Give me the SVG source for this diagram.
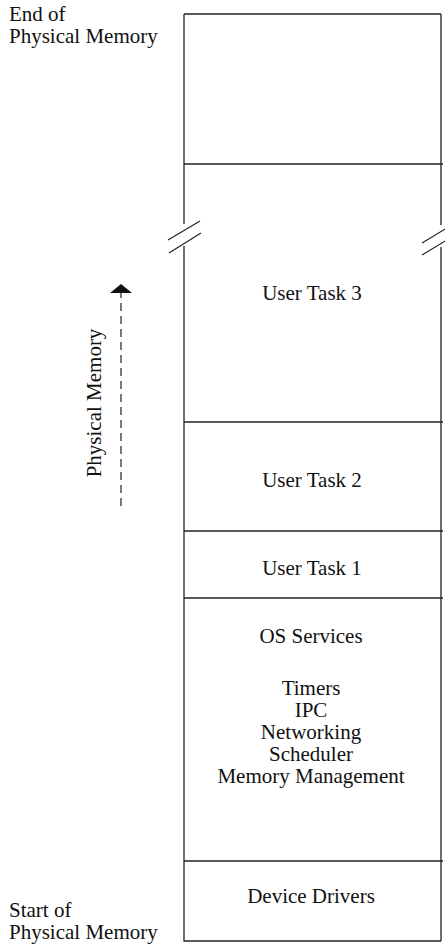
<svg xmlns="http://www.w3.org/2000/svg" width="445" height="949" viewBox="0 0 445 949">
<style>
  text { font-family: "Liberation Serif", "Times New Roman", serif; font-size: 21px; fill: #111; }
  .c { text-anchor: middle; }
  .edge { stroke: #222; stroke-width: 1.3; fill: none; }
  .div { stroke: #222; stroke-width: 1.3; fill: none; }
  .brk { stroke: #222; stroke-width: 1.2; fill: none; }
  .arrow { stroke: #222; stroke-width: 1.2; fill: none; stroke-dasharray: 8 5; }
  .head { fill: #111; }
</style>
<rect width="445" height="949" fill="#fff"/>
<g id="memory-column">
  <path class="edge" d="M184,14 H441 M184,14 V224 M184,246 V941 H441 M441,14 V225 M441,247 V941"/>
  <path class="brk" d="M168,240 L200,221 M169,253 L201,233 M422,243 L460,220 M422,255 L460,232"/>
</g>
<g id="free-region">
  <line class="div" x1="184" y1="164" x2="443" y2="164"/>
</g>
<g id="user-task-3">
  <text class="c" x="312" y="300">User Task 3</text>
  <line class="div" x1="184" y1="422" x2="443" y2="422"/>
</g>
<g id="user-task-2">
  <text class="c" x="312" y="487">User Task 2</text>
  <line class="div" x1="184" y1="531" x2="443" y2="531"/>
</g>
<g id="user-task-1">
  <text class="c" x="312" y="575">User Task 1</text>
  <line class="div" x1="184" y1="598" x2="443" y2="598"/>
</g>
<g id="os-services">
  <text class="c" x="311" y="643">OS Services</text>
  <text class="c" x="311" y="695">Timers</text>
  <text class="c" x="311" y="717">IPC</text>
  <text class="c" x="311" y="739">Networking</text>
  <text class="c" x="311" y="761">Scheduler</text>
  <text class="c" x="311" y="783">Memory Management</text>
  <line class="div" x1="184" y1="861" x2="443" y2="861"/>
</g>
<g id="device-drivers">
  <text class="c" x="311" y="903">Device Drivers</text>
</g>
<g id="labels">
  <text x="9" y="21">End of</text>
  <text x="9" y="43">Physical Memory</text>
  <text x="9" y="917">Start of</text>
  <text x="9" y="939">Physical Memory</text>
  <text class="c" transform="translate(101,403) rotate(-90)">Physical Memory</text>
</g>
<g id="connectors">
  <line class="arrow" x1="121" y1="506" x2="121" y2="292"/>
  <polygon class="head" points="121,284 132,293 110,293"/>
</g>
</svg>
